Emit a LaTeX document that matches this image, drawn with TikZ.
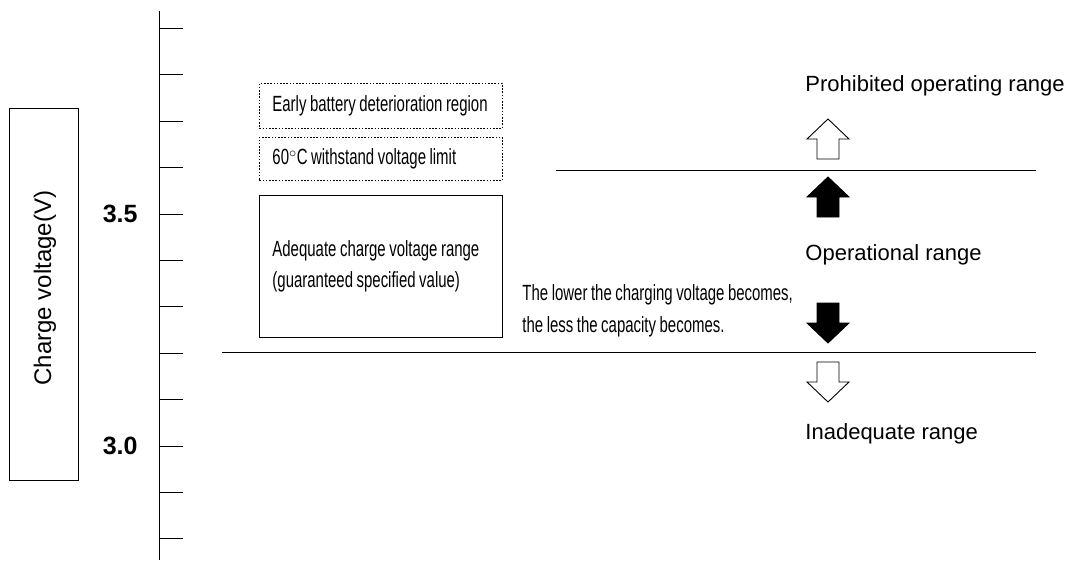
\documentclass[tikz,border=0pt]{standalone}
\usepackage{fontspec}
\setmainfont{Liberation Sans}
\newfontfamily\narrowfont[FakeStretch=0.68,WordSpace=0.85]{Liberation Sans}
\tikzstyle{every node}=[inner sep=0pt]
\tikzstyle{rangelabel}=[anchor=west,font=\fontsize{22}{26}\selectfont]
\tikzstyle{voltlabel}=[anchor=east,font=\fontsize{25}{30}\selectfont\bfseries]
\tikzstyle{notebox}=[draw,anchor=north west,inner xsep=13pt,text width=217pt,align=flush left,
    font=\narrowfont\fontsize{22}{31}\selectfont]
\tikzstyle{dotbox}=[notebox,dash pattern=on 1.6pt off 1.6pt]
\tikzset{
  pics/blockarrow/.style={code={
    \draw [fill=#1,line width=0.9pt] (-11,20) -- (-11,0) -- (-21,0) -- (0,-20)
      -- (21,0) -- (11,0) -- (11,20) -- cycle;
  }}
}
\begin{document}
\begin{tikzpicture}[x=1pt,y=-1pt,line width=0.9pt]
  \useasboundingbox (0,0) rectangle (1069,560);
  % axis
  \draw (159,11) -- (159,560);
  \foreach \i in {0,...,11}
    \draw (159,28.4+46.4*\i) -- (183,28.4+46.4*\i);
  \node [voltlabel] (v35) at (138,214) {3.5};
  \node [voltlabel] (v30) at (138,446) {3.0};
  % axis title
  \node [draw,minimum width=69pt,minimum height=372pt] (ybox) at (43.5,294) {};
  \node [rotate=90,font=\fontsize{24}{28}\selectfont] (ylabel) at (45,288) {Charge voltage(V)};
  % boxes
  \node [dotbox,minimum height=45pt] (early) at (259,83) {Early battery deterioration region};
  \node [dotbox,minimum height=43pt] (limit) at (259,137) {60$^\circ$C withstand voltage limit};
  \node [notebox,minimum height=142pt] (adequate) at (259,195)
    {Adequate charge voltage range\\(guaranteed specified value)};
  \node [anchor=west,align=left,font=\narrowfont\fontsize{22}{32}\selectfont] (lower) at (522,311)
    {The lower the charging voltage becomes,\\the less the capacity becomes.};
  % limits
  \draw (556,170) -- (1036,170);
  \draw (222,352) -- (1036,352);
  % ranges
  \node [rangelabel] (prohibited) at (805,86) {Prohibited operating range};
  \node [rangelabel] (operational) at (805,254.5) {Operational range};
  \node [rangelabel] (inadequate) at (805,434) {Inadequate range};
  \pic (upopen) at (828,139) {blockarrow=white};
  \pic (upfull) at (828,197) {blockarrow=black};
  \pic [rotate=180] (downfull) at (828,323) {blockarrow=black};
  \pic [rotate=180] (downopen) at (828,382) {blockarrow=white};
\end{tikzpicture}
\end{document}
